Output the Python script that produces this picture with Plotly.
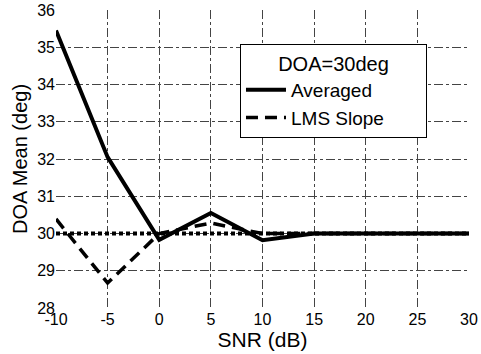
import plotly.graph_objects as go

snr = [-10, -5, 0, 5, 10, 15, 20, 25, 30]
averaged = [35.45, 32.05, 29.83, 30.55, 29.82, 30.0, 30.0, 30.0, 30.0]
lms_slope = [30.39, 28.67, 30.0, 30.28, 30.0, 30.0, 30.0, 30.0, 30.0]
true_x = [-10, 30]
true_doa = [30.0, 30.0]

xticks = [-10, -5, 0, 5, 10, 15, 20, 25, 30]
yticks = [28, 29, 30, 31, 32, 33, 34, 35, 36]

pad = "\u00a0" * 7

fig = go.Figure()
fig.add_trace(go.Scatter(x=true_x, y=true_doa, mode="lines", showlegend=False,
                         line=dict(color="black", width=4, dash="4px,3px")))
fig.add_trace(go.Scatter(x=snr, y=averaged, mode="lines", name="Averaged" + pad,
                         line=dict(color="black", width=4)))
fig.add_trace(go.Scatter(x=snr, y=lms_slope, mode="lines", name="LMS Slope" + pad,
                         line=dict(color="black", width=3.5, dash="12px,7px")))

font = "Liberation Sans, Arial, Helvetica, sans-serif"
fig.update_layout(
    width=481, height=354,
    margin=dict(l=56, r=12, t=10, b=46, autoexpand=False),
    paper_bgcolor="white", plot_bgcolor="white",
    font=dict(family=font, color="black", size=16),
    legend=dict(
        x=0.4455, y=0.886, xanchor="left", yanchor="top",
        bgcolor="white", bordercolor="black", borderwidth=1,
        title=dict(text="DOA=30deg", font=dict(size=20), side="top center"),
        font=dict(size=19), tracegroupgap=0, itemwidth=40,
    ),
)
fig.update_xaxes(range=[-10, 30], tickvals=xticks, ticktext=[str(v) for v in xticks],
                 showgrid=True, gridcolor="#444", gridwidth=1, griddash="dashdot",
                 zeroline=False, showline=False, ticks="", automargin=False,
                 ticklabeloverflow="allow",
                 title=dict(text="SNR (dB)", font=dict(size=21), standoff=0),
                 tickfont=dict(size=16))
fig.update_yaxes(range=[28, 36], tickvals=yticks, ticktext=[str(v) for v in yticks],
                 showgrid=True, gridcolor="#444", gridwidth=1, griddash="dashdot",
                 zeroline=False, showline=False, ticks="", automargin=False,
                 ticklabeloverflow="allow",
                 title=dict(text="DOA Mean (deg)", font=dict(size=20), standoff=4),
                 tickfont=dict(size=16))

fig.write_html(
    "out.html",
    config={"displayModeBar": False},
    post_script="document.body.style.margin='0';document.body.style.overflow='hidden';",
)
